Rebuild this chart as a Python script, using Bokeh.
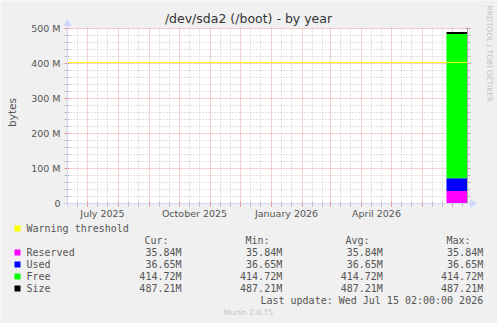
import pandas as pd
from math import pi
from bokeh.plotting import figure
from bokeh.models import Range1d
from bokeh.core.properties import value
from bokeh.embed import file_html
from bokeh.resources import INLINE

# ---------------- data ----------------
dates = ["2026-06-25", "2026-07-16"]
reserved = [35.84, 35.84]
used = [36.65, 36.65]
free = [414.72, 414.72]
size = [487.21, 487.21]
warning = 403.0
x_start = "2025-06-11"
x_end = "2026-07-16"
quarter_labels = ["July 2025", "October 2025", "January 2026", "April 2026"]
quarter_dates = ["2025-07-16", "2025-10-16", "2026-01-16", "2026-04-16"]
y_ticks = [0, 100, 200, 300, 400, 500]
y_tick_labels = ["0", "100 M", "200 M", "300 M", "400 M", "500 M"]
y_minor = [v for v in range(0, 501, 20) if v % 100 != 0]
legend_names = ["Reserved", "Used", "Free", "Size"]
legend_colors = ["#ff00ff", "#0000ff", "#00ff00", "#000000"]
series = [reserved, used, free, size]
title = "/dev/sda2 (/boot) - by year"
last_update = "Last update: Wed Jul 15 02:00:00 2026"
stat_headers = ["Cur:", "Min:", "Avg:", "Max:"]

def ms(s):
    return pd.Timestamp(s).value / 1e6

xs, xe = ms(x_start), ms(x_end)
xd = [ms(d) for d in dates]
month_starts = [ms(d) for d in pd.date_range("2025-07-01", "2026-07-01", freq="MS")]
minor_days = []
for m in pd.date_range("2025-06-01", "2026-07-01", freq="MS"):
    for off in (10, 20):
        t = ms(m + pd.Timedelta(days=off))
        if xs < t < xe:
            minor_days.append(t)

# ---------------- layout helpers (pixel placement) ----------------
W, H = 497, 323
L, R, T, B = 67, 467, 28, 203
kx = (xe - xs) / (R - L)      # ms per pixel
ky = 500.0 / (B - T)          # M per pixel
def X(px):
    return xs + (px - L) * kx
def Y(py):
    return (B - py) * ky

AX = "#CFD6F8"
FONT = "#555555"
MAJ = "#e6a3a3"
MIN = "#c4c4c4"
MAJT = "#e08a8a"
MINT = "#b8b8b8"
SANS = value("DejaVu Sans")
MONO = value("DejaVu Sans Mono")

p = figure(width=W, height=H, output_backend="svg", toolbar_location=None,
           x_range=Range1d(X(0), X(W)), y_range=Range1d(Y(H), Y(0)),
           min_border=0, x_axis_location=None, y_axis_location=None)
p.grid.visible = False
p.border_fill_color = "#F0F0F0"
p.background_fill_color = "#F0F0F0"
p.outline_line_color = None

# canvas
p.quad(left=[xs], right=[xe], bottom=[0], top=[500], fill_color="#FFFFFF", line_color=None)

# grid: minor then major (dotted), with small solid ticks outside the canvas
p.segment(x0=minor_days, y0=[0] * len(minor_days), x1=minor_days, y1=[500] * len(minor_days),
          line_color=MIN, line_width=1, line_dash="1 2")
p.segment(x0=[xs] * len(y_minor), y0=y_minor, x1=[xe] * len(y_minor), y1=y_minor,
          line_color=MIN, line_width=1, line_dash="1 2")
p.segment(x0=month_starts, y0=[0] * len(month_starts), x1=month_starts, y1=[500] * len(month_starts),
          line_color=MAJ, line_width=1, line_dash="1 1")
p.segment(x0=[xs] * len(y_ticks), y0=y_ticks, x1=[xe] * len(y_ticks), y1=y_ticks,
          line_color=MAJ, line_width=1, line_dash="1 1")
# ticks
for ticks, col in ((y_minor, MINT), (y_ticks, MAJT)):
    n = len(ticks)
    p.segment(x0=[X(L - 3)] * n, y0=ticks, x1=[X(L + 2)] * n, y1=ticks, line_color=col)
    p.segment(x0=[X(R - 2)] * n, y0=ticks, x1=[X(R + 3)] * n, y1=ticks, line_color=col)
for ticks, col in ((minor_days, MINT), (month_starts, MAJT)):
    n = len(ticks)
    p.segment(x0=ticks, y0=[Y(B + 3)] * n, x1=ticks, y1=[Y(B - 2)] * n, line_color=col)

# stacked areas (drawn over the grid)
base = [0.0] * len(xd)
for vals, col in zip(series[:3], legend_colors[:3]):
    top = [b + v for b, v in zip(base, vals)]
    p.varea(x=xd, y1=base, y2=top, fill_color=col, fill_alpha=1)
    base = top

# warning threshold and size line
p.line(x=[xs, xe], y=[warning, warning], line_color="#ffff00", line_width=1)
p.line(x=xd, y=size, line_color="#000000", line_width=2)

# right frame line and axes with arrows
p.line(x=[xe, xe], y=[0, 500], line_color="#a8a8a8", line_width=1)
p.line(x=[X(L - 3), X(R + 4)], y=[0, 0], line_color=AX, line_width=1)
p.line(x=[xs, xs], y=[Y(B + 3), Y(T - 4)], line_color=AX, line_width=1)
p.scatter(x=[X(R + 5)], y=[0], marker="triangle", size=7, angle=-pi / 2,
          fill_color=AX, line_color=AX)
p.scatter(x=[xs], y=[Y(T - 5)], marker="triangle", size=7,
          fill_color=AX, line_color=AX)

def txt(xv, yv, texts, font=SANS, size="10px", align="left", color=FONT, angle=0,
        baseline="middle"):
    p.text(x=xv, y=yv, text=texts, text_font=font, text_font_size=value(size),
           text_align=align, text_baseline=baseline, text_color=color, angle=angle)

# axis texts
txt([X(60)] * len(y_ticks), y_ticks, y_tick_labels, size="9.5px", align="right")
txt([ms(d) for d in quarter_dates], [Y(213)] * len(quarter_dates), quarter_labels,
    size="9.5px", align="center")
txt([X(248)], [Y(18)], [title], size="12.5px", align="center", color="#333333")
txt([X(11)], [Y(112)], ["bytes"], size="10.5px", align="center", angle=pi / 2)
txt([X(489)], [Y(5)], ["RRDTOOL / TOBI OETIKER"], size="7.5px", color="#c4c4c4",
    angle=-pi / 2)
txt([X(248)], [Y(312)], ["Munin 2.0.75"], size="7.5px", align="center", color="#c4c4c4")

# legend
row_y = [252, 264, 276, 288]
sq_x = [X(14)] * 5
sq_w = [X(20)] * 5
p.quad(left=sq_x, right=sq_w,
       top=[Y(225)] + [Y(r - 3) for r in row_y],
       bottom=[Y(231)] + [Y(r + 3) for r in row_y],
       fill_color=["#ffff00"] + legend_colors, line_color=None)
txt([X(26)], [Y(228)], ["Warning threshold"], font=MONO)
txt([X(v) for v in (168, 269, 369, 470)], [Y(240)] * 4, stat_headers, font=MONO, align="right")
txt([X(26)] * 4, [Y(r) for r in row_y], legend_names, font=MONO)
col_x = [181, 281.7, 382.3, 482.7]
for vals, r in zip(series, row_y):
    stats = [vals[-1], min(vals), sum(vals) / len(vals), max(vals)]
    txt([X(c) for c in col_x], [Y(r)] * 4, ["%.2fM" % v for v in stats], font=MONO,
        align="right")
txt([X(482.7)], [Y(299.5)], [last_update], font=MONO, align="right")

open("out.html", "w").write(file_html(p, INLINE))
